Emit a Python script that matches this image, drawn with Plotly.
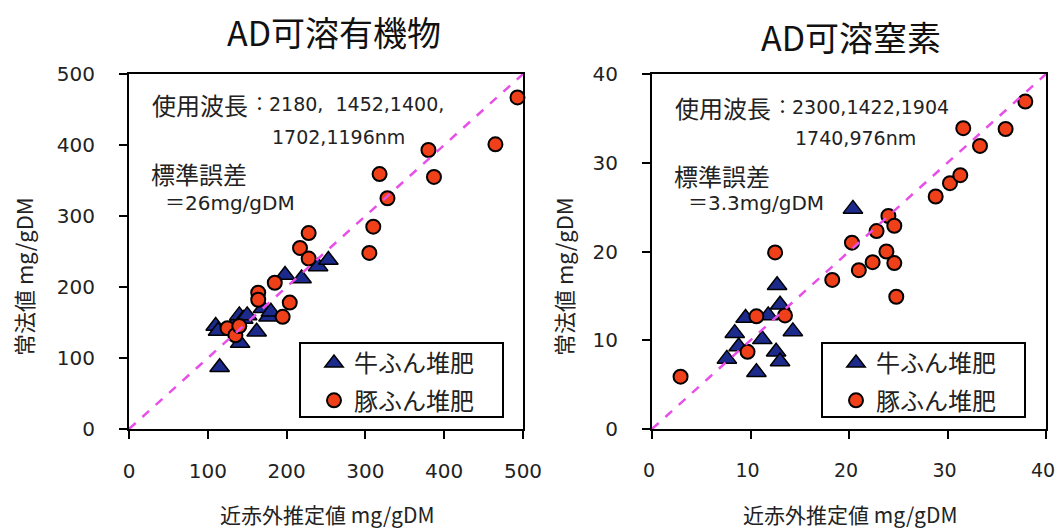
import plotly.graph_objects as go

# ---- data: AD可溶有機物 (mg/gDM) ----
om_cattle_x = [115, 110, 113, 135, 140, 145, 141, 162, 170, 177, 180, 198, 219, 240, 253, 150]
om_cattle_y = [87, 145, 138, 150, 160, 155, 121, 137, 170, 158, 165, 217, 212, 229, 238, 160]
om_pig_x = [125, 135, 140, 164, 164, 185, 195, 204, 217, 228, 228, 305, 310, 318, 328, 380, 387, 465, 493]
om_pig_y = [142, 132, 145, 192, 182, 206, 158, 178, 255, 276, 240, 248, 285, 359, 325, 393, 355, 401, 467]

# ---- data: AD可溶窒素 (mg/gDM) ----
n_cattle_x = [20.4, 12.7, 13.0, 9.5, 11.8, 14.3, 8.4, 11.2, 12.6, 7.6, 13.0, 10.6, 8.8]
n_cattle_y = [24.8, 16.2, 14.0, 12.5, 12.8, 11.0, 10.8, 10.1, 8.7, 7.9, 7.6, 6.4, 9.3]
n_pig_x = [2.9, 9.7, 10.6, 12.5, 13.5, 18.3, 20.3, 21.0, 22.4, 22.8, 23.8, 24.0, 24.6, 24.6, 24.8,
           28.8, 30.25, 31.3, 31.6, 33.3, 35.9, 37.9]
n_pig_y = [5.9, 8.7, 12.7, 19.9, 12.8, 16.8, 21.0, 17.9, 18.8, 22.3, 20.0, 24.0, 22.9, 18.7, 14.9,
           26.2, 27.7, 28.6, 33.9, 31.9, 33.8, 36.9]

om_range = [0, 500]
n_range = [0, 40]
om_ticks = [0, 100, 200, 300, 400, 500]
n_ticks = [0, 10, 20, 30, 40]

series_names = ["牛ふん堆肥", "豚ふん堆肥"]
titles = ["AD可溶有機物", "AD可溶窒素"]
x_title = "近赤外推定値 mg/gDM"
y_title = "常法値 mg/gDM"

W, H = 1057, 531
CJK = "Noto Sans CJK JP"
NUM = "DejaVu Sans"
MIX = "DejaVu Sans, Noto Sans CJK JP"

cattle_marker = dict(symbol="triangle-up", size=17, color="#1C2A8C", line=dict(color="black", width=1.5))
pig_marker = dict(symbol="circle", size=14, color="#F0401A", line=dict(color="black", width=2))
diag_line = dict(color="#E84FE8", width=2.5, dash="dash")

fig = go.Figure()

# left panel
fig.add_trace(go.Scatter(x=om_cattle_x, y=om_cattle_y, mode="markers", marker=cattle_marker,
                         name=series_names[0], xaxis="x", yaxis="y", legend="legend",
                         legendgroup="a", cliponaxis=False))
fig.add_trace(go.Scatter(x=om_pig_x, y=om_pig_y, mode="markers", marker=pig_marker,
                         name=series_names[1], xaxis="x", yaxis="y", legend="legend",
                         legendgroup="b", cliponaxis=False))
fig.add_trace(go.Scatter(x=om_range, y=om_range, mode="lines", line=diag_line,
                         showlegend=False, xaxis="x", yaxis="y", hoverinfo="skip"))

# right panel
fig.add_trace(go.Scatter(x=n_cattle_x, y=n_cattle_y, mode="markers", marker=cattle_marker,
                         name=series_names[0], xaxis="x2", yaxis="y2", legend="legend2",
                         legendgroup="c", cliponaxis=False))
fig.add_trace(go.Scatter(x=n_pig_x, y=n_pig_y, mode="markers", marker=pig_marker,
                         name=series_names[1], xaxis="x2", yaxis="y2", legend="legend2",
                         legendgroup="d", cliponaxis=False))
fig.add_trace(go.Scatter(x=n_range, y=n_range, mode="lines", line=diag_line,
                         showlegend=False, xaxis="x2", yaxis="y2", hoverinfo="skip"))

def px(x):
    return x / W

def py(y):
    return 1 - y / H

ydom = [py(429), py(74)]

def axis_style(dom, rng, ticks, anchor, standoff, size=20, shift=0):
    return dict(domain=dom, range=rng, tickvals=ticks, anchor=anchor,
                showline=True, linecolor="black", linewidth=2, mirror=True,
                ticks="outside", ticklen=8, tickwidth=2, tickcolor="black",
                showgrid=False, zeroline=False, automargin=False,
                tickfont=dict(family=NUM, size=size, color="#222"),
                ticklabelstandoff=standoff, ticklabelshift=shift,
                ticklabeloverflow="allow", fixedrange=True)

legend_common = dict(xanchor="left", yanchor="top", bgcolor="rgba(0,0,0,0)",
                     borderwidth=0, tracegroupgap=3,
                     font=dict(family=CJK, size=24, color="#222"))

fig.update_layout(
    width=W, height=H, autosize=False,
    margin=dict(l=0, r=0, t=0, b=0, pad=0),
    paper_bgcolor="white", plot_bgcolor="white",
    xaxis=axis_style([px(129), px(523)], om_range, om_ticks, "y", 15),
    yaxis=axis_style(ydom, om_range, om_ticks, "x", 20),
    xaxis2=axis_style([px(652), px(1046)], n_range, n_ticks, "y2", 15, size=19, shift=-3),
    yaxis2=axis_style(ydom, n_range, n_ticks, "x2", 20),
    legend=dict(x=px(314), y=py(341), **legend_common),
    legend2=dict(x=px(836), y=py(341), **legend_common),
    showlegend=True,
)

# legend boxes
for x0, x1 in [(300, 503), (822, 1025)]:
    fig.add_shape(type="rect", xref="paper", yref="paper",
                  x0=px(x0), x1=px(x1), y0=py(417), y1=py(343),
                  line=dict(color="black", width=2), fillcolor="rgba(0,0,0,0)")

ann = []
# titles
ann.append(dict(text=titles[0], x=px(334), y=py(32), font=dict(family=CJK, size=34, color="#111")))
ann.append(dict(text=titles[1], x=px(851), y=py(36), font=dict(family=CJK, size=34, color="#111")))
# axis titles
for cx in (327, 850):
    ann.append(dict(text=x_title, x=px(cx), y=py(514), font=dict(family=CJK, size=21, color="#222")))
for cx in (23, 563):
    ann.append(dict(text=y_title, x=px(cx), y=py(277), textangle=-90,
                    font=dict(family=CJK, size=22, color="#222")))

# in-plot notes (x_left, y_center, text, family, size)
notes = [
    (150, 104, "使用波長", CJK, 24),
    (248, 104, "：2180,  1452,1400,", MIX, 19),
    (270, 137, "1702,1196nm", MIX, 19),
    (149, 173, "標準誤差", CJK, 24),
    (163, 203, "＝26mg/gDM", MIX, 20),
    (673, 107, "使用波長", CJK, 24),
    (771, 107, "：2300,1422,1904", MIX, 19),
    (793, 138, "1740,976nm", MIX, 19),
    (672, 175, "標準誤差", CJK, 24),
    (686, 203, "＝3.3mg/gDM", MIX, 20),
]
for x, y, t, fam, s in notes:
    ann.append(dict(text=t, x=px(x), y=py(y), xanchor="left",
                    font=dict(family=fam, size=s, color="#222")))

for a in ann:
    a.setdefault("xanchor", "center")
    a.update(xref="paper", yref="paper", yanchor="middle", showarrow=False)
fig.update_layout(annotations=ann)

fig.write_html("out.html", config={"displayModeBar": False},
               post_script="document.body.style.margin='0';document.body.style.overflow='hidden';")
